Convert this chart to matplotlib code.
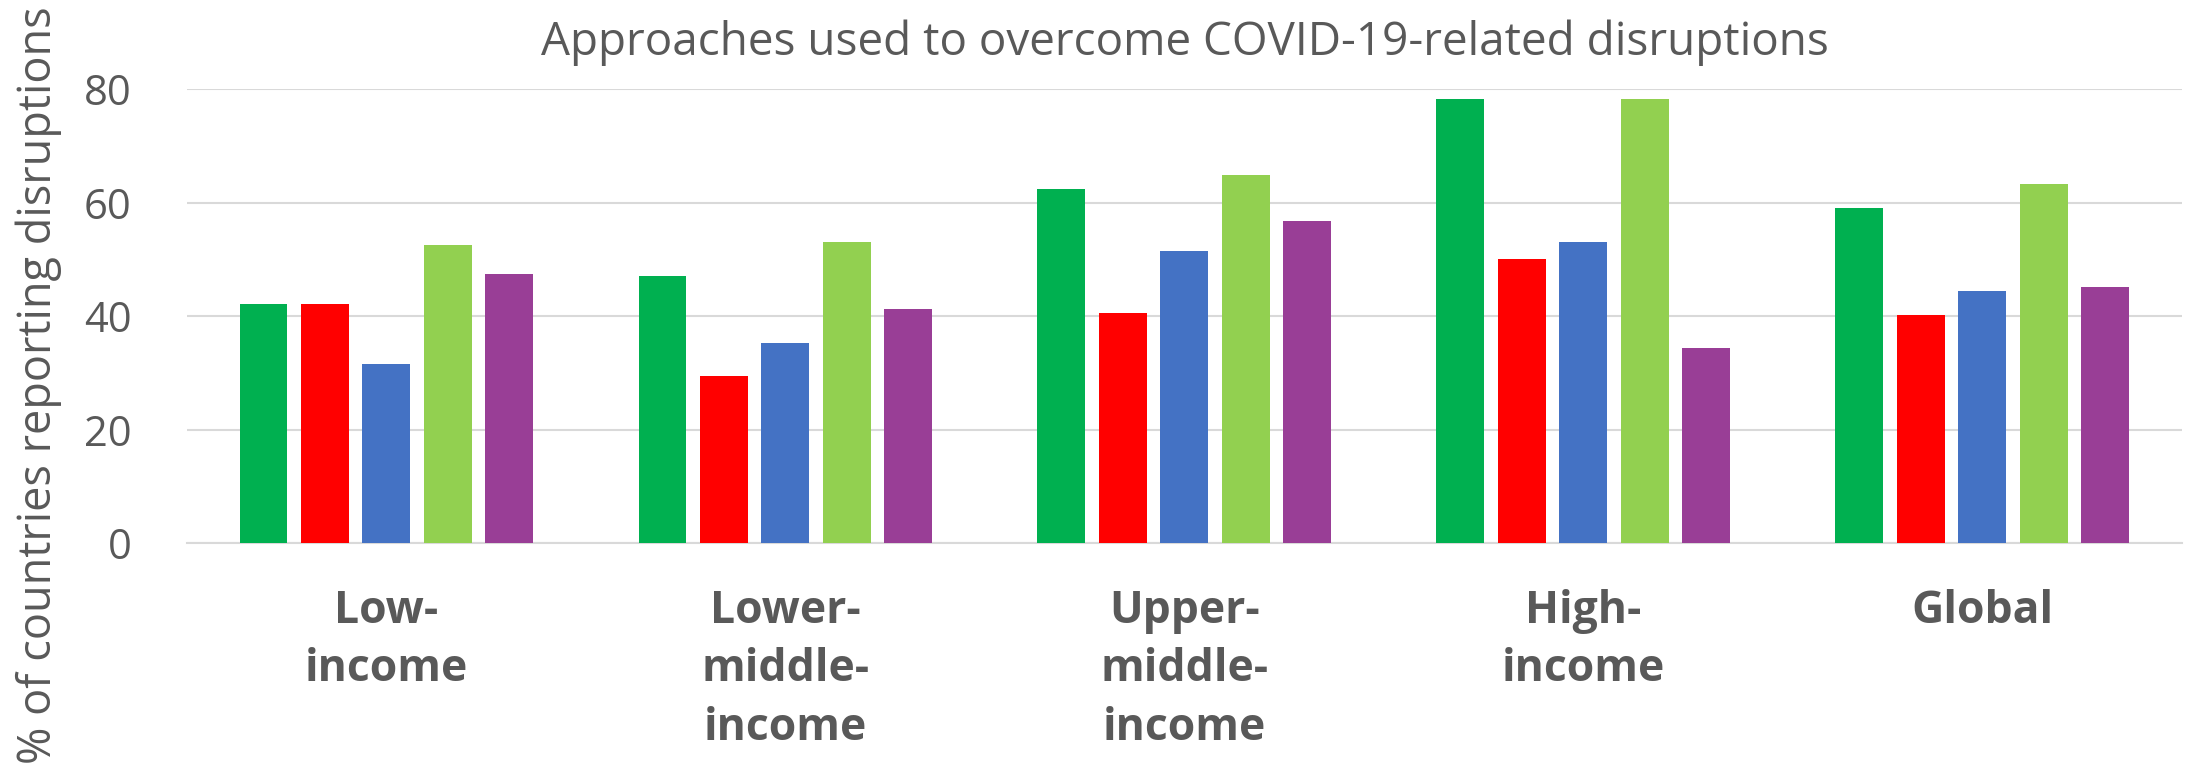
import matplotlib.pyplot as plt
import numpy as np

# values (% of countries)
groups = ['Low-\nincome', 'Lower-\nmiddle-\nincome', 'Upper-\nmiddle-\nincome', 'High-\nincome', 'Global']
s_green = [42.2, 47.1, 62.3, 78.2, 59.1]
s_red = [42.2, 29.4, 40.6, 50.1, 40.2]
s_blue = [31.6, 35.3, 51.4, 53.1, 44.4]
s_lightgreen = [52.6, 53.0, 64.9, 78.2, 63.2]
s_purple = [47.4, 41.2, 56.8, 34.4, 45.1]
yticks = [0, 20, 40, 60, 80]

series = [s_green, s_red, s_blue, s_lightgreen, s_purple]
colors = ['#00B050', '#FF0000', '#4472C4', '#92D050', '#993E96']

plt.rcParams['font.family'] = ['Open Sans', 'DejaVu Sans']
txt = '#595959'

fig = plt.figure(figsize=(21.86, 7.7), dpi=100)
ax = fig.add_axes([0.0855, 0.2948, 0.9125, 0.5896])

x = np.arange(len(groups))
step = 0.154
for j, (vals, c) in enumerate(zip(series, colors)):
    ax.bar(x + (j - 2) * step, vals, width=0.12, color=c, zorder=3)

ax.set_xlim(-0.5, len(groups) - 0.5)
ax.set_ylim(0, 80)
ax.set_yticks(yticks)
ax.yaxis.grid(True, color='#D9D9D9', linewidth=1.5, zorder=0)
ax.set_axisbelow(True)
for sp in ['top', 'right', 'left']:
    ax.spines[sp].set_visible(False)
ax.spines['bottom'].set_color('#D9D9D9')
ax.spines['bottom'].set_linewidth(1.5)

ax.set_xticks(x)
ax.set_xticklabels(groups, fontsize=32, fontweight='bold', color=txt, linespacing=1.4)
ax.tick_params(axis='x', length=0, pad=33)
ax.tick_params(axis='y', length=0, pad=40, labelsize=30, labelcolor=txt)

fig.text(0.542, 0.945, 'Approaches used to overcome COVID-19-related disruptions',
         ha='center', va='center', fontsize=33, color=txt)
fig.text(0.0175, 0.500, '% of countries reporting disruptions', rotation=90,
         ha='center', va='center', fontsize=32.5, color=txt)

fig.savefig('out.png', dpi=100)
